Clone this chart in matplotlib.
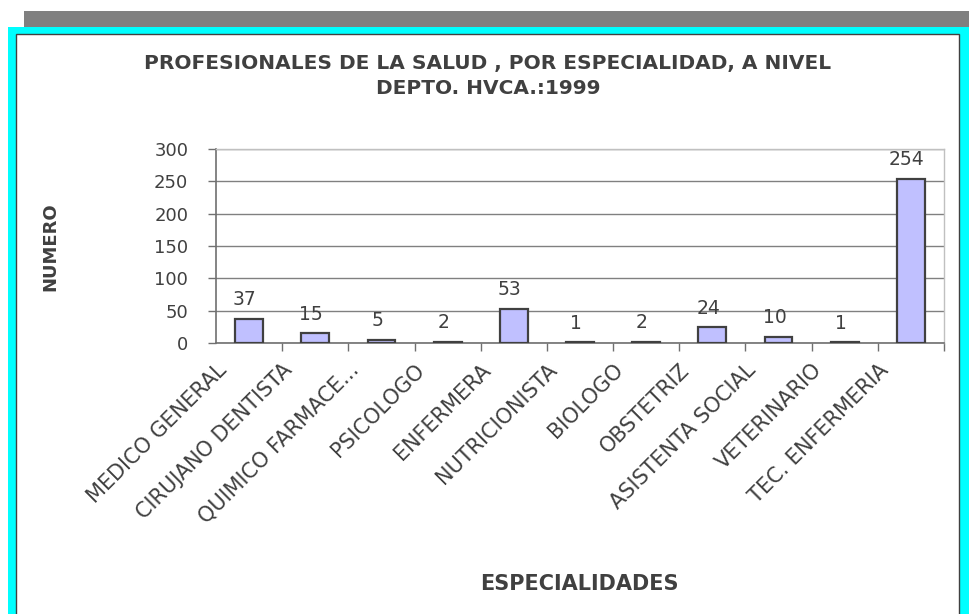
import matplotlib
matplotlib.use("Agg")
import matplotlib.pyplot as plt
import matplotlib.transforms as mtransforms
from matplotlib.patches import Rectangle

# datos del grafico
especialidades = ["MEDICO GENERAL", "CIRUJANO DENTISTA", "QUIMICO FARMACE...",
                  "PSICOLOGO", "ENFERMERA", "NUTRICIONISTA", "BIOLOGO",
                  "OBSTETRIZ", "ASISTENTA SOCIAL", "VETERINARIO", "TEC. ENFERMERIA"]
numero = [37, 15, 5, 2, 53, 1, 2, 24, 10, 1, 254]
yticks = [0, 50, 100, 150, 200, 250, 300]

W, H = 969, 614
txt = "#404040"
plt.rcParams['font.family'] = ['DejaVu Sans']

fig = plt.figure(figsize=(W / 100, H / 100), dpi=100)
fig.patch.set_facecolor("white")

def px(x0, y0, x1, y1, **kw):
    # rectangulo en pixeles (y desde arriba)
    fig.add_artist(Rectangle((x0 / W, 1 - y1 / H), (x1 - x0) / W, (y1 - y0) / H,
                             transform=fig.transFigure, zorder=-1, **kw))

px(24, 11, 969, 27, facecolor="#808080", edgecolor="none")
px(8, 27, 969, 614, facecolor="#00FFFF", edgecolor="none")
px(16, 34, 959, 620, facecolor="white", edgecolor="#404040", linewidth=1)

ax = fig.add_axes([216 / W, 1 - 343 / H, (944 - 216) / W, (343 - 149) / H])
ax.set_facecolor("none")
ax.set_zorder(2)

x = list(range(len(numero)))
bars = ax.bar(x, numero, width=0.42, color="#C0C0FF", edgecolor="#404040",
              linewidth=1.6, zorder=3)
for b, v in zip(bars, numero):
    ax.annotate(str(v), (b.get_x() + b.get_width() / 2, v), xytext=(-3, 7),
                textcoords="offset points", ha="center", va="bottom",
                fontsize=13.5, color=txt)

ax.set_xlim(-0.5, len(numero) - 0.5)
ax.set_ylim(0, 300)
ax.set_yticks(yticks)
ax.yaxis.grid(True, color="#808080", linewidth=1, zorder=0)
ax.set_axisbelow(True)

for s in ["top", "right"]:
    ax.spines[s].set_color("#C0C0C0")
    ax.spines[s].set_linewidth(1)
for s in ["left", "bottom"]:
    ax.spines[s].set_color("#707070")
    ax.spines[s].set_linewidth(1.2)

ax.tick_params(axis="y", length=6, width=1, color="#707070", pad=14,
               labelsize=13, labelcolor=txt)
ax.set_xticks(x)
ax.set_xticklabels(especialidades, rotation=45, ha="right", va="top",
                   rotation_mode="anchor", fontsize=15, color=txt)
ax.set_xticks([i - 0.5 for i in range(1, len(numero) + 1)], minor=True)
ax.tick_params(axis="x", which="major", length=0, pad=12)
ax.tick_params(axis="x", which="minor", length=6, width=1, color="#707070")
shift = mtransforms.ScaledTranslation(-0.33, 0, fig.dpi_scale_trans)
for lab in ax.get_xticklabels():
    lab.set_transform(lab.get_transform() + shift)

bold = dict(fontweight="bold", color=txt)
fig.text(488 / W, 1 - 63 / H, "PROFESIONALES DE LA SALUD , POR ESPECIALIDAD, A NIVEL",
         ha="center", va="center", fontsize=14.5, **bold)
fig.text(488 / W, 1 - 89 / H, "DEPTO. HVCA.:1999",
         ha="center", va="center", fontsize=14.5, **bold)
fig.text(50 / W, 1 - 247 / H, "NUMERO", rotation=90, ha="center", va="center",
         fontsize=13, **bold)
fig.text(579 / W, 1 - 584 / H, "ESPECIALIDADES", ha="center", va="center",
         fontsize=15, **bold)

fig.savefig("out.png", dpi=100)
